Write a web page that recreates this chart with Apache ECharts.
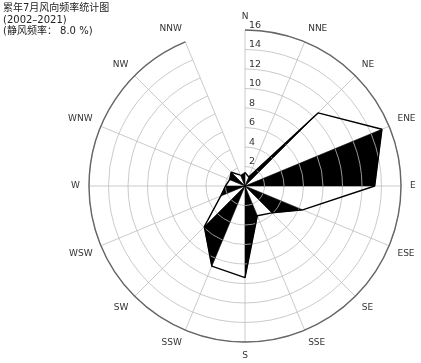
<!DOCTYPE html>
<html>
<head>
<meta charset="utf-8">
<script src="https://cdn.jsdelivr.net/npm/echarts@6/dist/echarts.min.js"></script>
<style>
  html, body { margin: 0; padding: 0; background: #fff; }
  #chart { width: 421px; height: 363px; }
</style>
</head>
<body>
<div id="chart"></div>
<script>
// 16-point compass, clockwise from north
const directions = ['N', 'NNE', 'NE', 'ENE', 'E', 'ESE', 'SE', 'SSE',
                    'S', 'SSW', 'SW', 'WSW', 'W', 'WNW', 'NW', 'NNW'];
// July wind-direction frequency (%), same order as directions
const frequency = [1.4, 1.0, 10.6, 15.2, 13.3, 6.4, 3.9, 3.3,
                   9.4, 8.9, 5.9, 2.7, 2.0, 1.7, 2.0, 1.2];
// radial scale ticks (%)
const radiusTicks = [0, 2, 4, 6, 8, 10, 12, 14, 16];

const titleLines = ['累年7月风向频率统计图', '(2002–2021)', '(静风频率： 8.0 %)'];

const latinFont = 'DejaVu Sans, "Noto Sans CJK SC", sans-serif';
const gridColor = '#bdbdbd';

// closed outline: append the first point again
const outline = frequency.map((v, i) => [v, i]);
outline.push([frequency[0], 0]);

// shaded sectors: centre -> point i -> point i+1, for every other pair
const sectors = [];
for (let i = 1; i < directions.length; i += 2) {
  const j = (i + 1) % directions.length;
  sectors.push([i, j, frequency[i], frequency[j]]);
}

const chart = echarts.init(document.getElementById('chart'), null, { renderer: 'canvas' });

chart.setOption({
  backgroundColor: '#fff',
  animation: false,
  title: {
    text: titleLines.join('\n'),
    left: 3,
    top: 3,
    padding: 0,
    textStyle: {
      fontFamily: latinFont,
      fontSize: 10,
      fontWeight: 'normal',
      color: '#222',
      lineHeight: 11.5
    }
  },
  polar: {
    center: [245, 186],
    radius: 156
  },
  angleAxis: {
    type: 'category',
    data: directions,
    startAngle: 90,
    clockwise: true,
    boundaryGap: false,
    axisLine: { show: true, lineStyle: { color: '#666', width: 1.4 } },
    axisTick: { show: false },
    axisLabel: {
      margin: 9,
      fontFamily: latinFont,
      fontSize: 9,
      color: '#333'
    },
    splitLine: { show: true, lineStyle: { color: gridColor, width: 0.8 } }
  },
  radiusAxis: {
    type: 'value',
    min: radiusTicks[0],
    max: radiusTicks[radiusTicks.length - 1],
    interval: radiusTicks[1] - radiusTicks[0],
    axisLine: { show: false },
    axisTick: { show: false },
    axisLabel: {
      showMinLabel: false,
      fontFamily: latinFont,
      fontSize: 9.5,
      color: '#333',
      margin: -4,
      align: 'left',
      verticalAlign: 'bottom'
    },
    splitLine: { show: true, lineStyle: { color: gridColor, width: 0.8 } }
  },
  series: [
    {
      // black sectors, with the ring grid redrawn over them
      type: 'custom',
      coordinateSystem: 'polar',
      z: 1,
      silent: true,
      encode: { angle: 0, radius: 2 },
      data: sectors,
      renderItem: function (params, api) {
        const i = api.value(0);
        const j = api.value(1);
        const c = api.coord([0, i]);
        const a = api.coord([api.value(2), i]);
        const b = api.coord([api.value(3), j]);
        const children = [{
          type: 'polygon',
          shape: { points: [c, a, b] },
          style: { fill: '#000', stroke: '#000', lineWidth: 0.5 }
        }];
        // ring arcs crossing this sector, clipped to the triangle
        const arcs = [];
        radiusTicks.forEach(function (t) {
          if (t <= 0) return;
          const p = api.coord([t, i]);
          const q = api.coord([t, j]);
          const r = Math.hypot(p[0] - c[0], p[1] - c[1]);
          const a0 = Math.atan2(p[1] - c[1], p[0] - c[0]);
          let a1 = Math.atan2(q[1] - c[1], q[0] - c[0]);
          if (a1 < a0) a1 += Math.PI * 2;
          arcs.push({
            type: 'arc',
            shape: { cx: c[0], cy: c[1], r: r, startAngle: a0, endAngle: a1, clockwise: true },
            style: { fill: null, stroke: gridColor, lineWidth: 0.8 }
          });
        });
        children.push({
          type: 'group',
          clipPath: { type: 'polygon', shape: { points: [c, a, b] } },
          children: arcs
        });
        return { type: 'group', children: children };
      }
    },
    {
      type: 'line',
      coordinateSystem: 'polar',
      z: 5,
      silent: true,
      symbol: 'none',
      data: outline,
      lineStyle: { color: '#000', width: 1.4 }
    }
  ]
});
</script>
</body>
</html>
